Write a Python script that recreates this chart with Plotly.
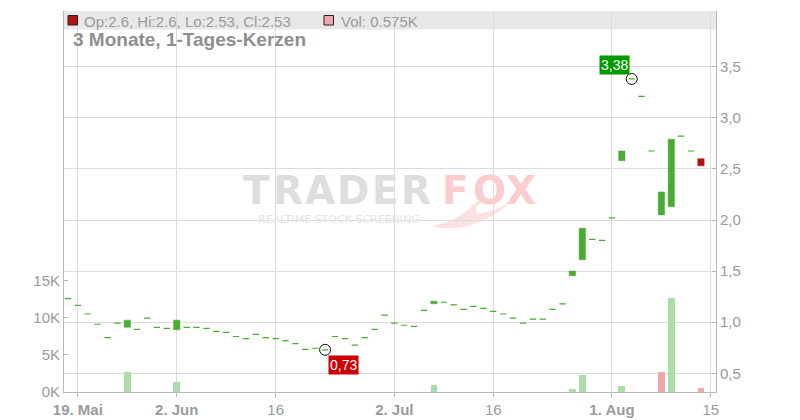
import numpy as np
import pandas as pd
import plotly.graph_objects as go

# ---------------- data ----------------
START = "2025-05-16"
dates = pd.bdate_range(START, "2025-08-14")  # 65 trading days

opens = [1.23, 1.165, 1.08, 0.98, 0.85, 0.99, 0.95, 0.93, 1.04, 0.95,
         0.94, 0.925, 0.95, 0.95, 0.94, 0.91, 0.90, 0.86, 0.84, 0.88,
         0.85, 0.84, 0.82, 0.79, 0.735, 0.745, 0.73, 0.86, 0.84, 0.775,
         0.85, 0.93, 1.07, 0.99, 0.97, 0.96, 1.115, 1.18, 1.195, 1.17,
         1.125, 1.155, 1.135, 1.105, 1.08, 1.04, 0.99, 1.03, 1.03, 1.125,
         1.18, 1.455, 1.61, 1.81, 1.80, 2.02, 2.58, 3.38, 3.21, 2.675,
         2.05, 2.13, 2.82, 2.675, 2.60]
closes = [1.23, 1.165, 1.08, 0.98, 0.85, 0.99, 1.02, 0.93, 1.04, 0.95,
          0.94, 1.02, 0.95, 0.95, 0.94, 0.91, 0.90, 0.86, 0.84, 0.88,
          0.85, 0.84, 0.82, 0.79, 0.735, 0.745, 0.73, 0.86, 0.84, 0.775,
          0.85, 0.93, 1.07, 0.99, 0.97, 0.96, 1.115, 1.205, 1.195, 1.17,
          1.125, 1.155, 1.135, 1.105, 1.08, 1.04, 0.99, 1.03, 1.03, 1.125,
          1.18, 1.50, 1.92, 1.81, 1.80, 2.02, 2.675, 3.38, 3.21, 2.675,
          2.275, 2.79, 2.82, 2.675, 2.53]
highs = [1.23, 1.165, 1.08, 0.98, 0.85, 0.99, 1.02, 0.93, 1.04, 0.95,
         0.94, 1.02, 0.95, 0.95, 0.94, 0.91, 0.90, 0.86, 0.84, 0.88,
         0.85, 0.84, 0.82, 0.79, 0.735, 0.745, 0.73, 0.86, 0.84, 0.775,
         0.85, 0.93, 1.07, 0.99, 0.97, 0.96, 1.115, 1.205, 1.195, 1.17,
         1.125, 1.155, 1.135, 1.105, 1.08, 1.04, 0.99, 1.03, 1.03, 1.125,
         1.18, 1.50, 1.92, 1.81, 1.80, 2.02, 2.675, 3.38, 3.21, 2.675,
         2.275, 2.79, 2.82, 2.675, 2.60]
lows = [1.23, 1.165, 1.08, 0.98, 0.85, 0.99, 0.95, 0.93, 1.04, 0.95,
        0.94, 0.925, 0.95, 0.95, 0.94, 0.91, 0.90, 0.86, 0.84, 0.88,
        0.85, 0.84, 0.82, 0.79, 0.735, 0.745, 0.73, 0.86, 0.84, 0.775,
        0.85, 0.93, 1.07, 0.99, 0.97, 0.96, 1.115, 1.18, 1.195, 1.17,
        1.125, 1.155, 1.135, 1.105, 1.08, 1.04, 0.99, 1.03, 1.03, 1.125,
        1.18, 1.455, 1.61, 1.81, 1.80, 2.02, 2.58, 3.38, 3.21, 2.675,
        2.05, 2.13, 2.82, 2.675, 2.53]
volumes_k = [0, 0, 0, 0, 0, 0, 2.73, 0, 0, 0,
             0, 1.39, 0, 0, 0, 0, 0, 0, 0, 0,
             0, 0, 0, 0, 0, 0, 0, 0, 0, 0,
             0, 0, 0, 0, 0, 0, 0, 0.98, 0, 0,
             0, 0, 0, 0, 0, 0, 0, 0, 0, 0,
             0, 0.44, 2.33, 0, 0, 0, 0.85, 0, 0, 0,
             2.73, 12.67, 0, 0, 0.575]

tick_dates = ["2025-05-19", "2025-06-02", "2025-06-16", "2025-07-02",
              "2025-07-16", "2025-08-01", "2025-08-15"]
tick_text = ["<b>19. Mai</b>", "<b>2. Jun</b>", "16", "<b>2. Jul</b>",
             "16", "<b>1. Aug</b>", "15"]
price_ticks = [0.5, 1.0, 1.5, 2.0, 2.5, 3.0, 3.5]
vol_ticks_k = [0, 5, 10, 15]

title_text = "3 Monate, 1-Tages-Kerzen"

# ---------------- style ----------------
GREEN = "#4aac32"
RED = "#b51212"
VGREEN = "#aadea6"
VPINK = "#f0a6ae"
TXT = "#9a9a9a"
GRID = "#dcdcdc"
AXL = "#b8b8b8"
FONT = "Liberation Sans, Arial, sans-serif"

n = len(opens)
xi = np.arange(n)
tick_pos = [int(np.busday_count(START, d)) for d in tick_dates]

# page body has an 8px default margin -> figure drawn at (8, 8)
OFF = 8
FW, FH = 800 - OFF, 420 - OFF
PL, PR, PT, PB = 64, 716, 11, 392   # plot area in screen pixels
def fx(px):
    return (px - PL) / (PR - PL)
def fy(py):
    return (PB - py) / (PB - PT)

fig = go.Figure()

vol_colors = [VGREEN if (i == 0 or closes[i] >= closes[i - 1]) else VPINK for i in range(n)]
fig.add_trace(go.Bar(x=xi, y=[v * 1000 for v in volumes_k], marker=dict(color=vol_colors, line=dict(width=0)),
                     width=0.68, yaxis="y2", hoverinfo="skip", showlegend=False))

body = [i for i in range(n) if opens[i] != closes[i]]
flat = [i for i in range(n) if opens[i] == closes[i]]

def pick(a, idx):
    return [a[i] for i in idx]

fig.add_trace(go.Candlestick(
    x=pick(xi, flat), open=pick(opens, flat), high=pick(highs, flat),
    low=pick(lows, flat), close=pick(closes, flat),
    increasing=dict(line=dict(color=GREEN, width=1.2), fillcolor=GREEN),
    decreasing=dict(line=dict(color=GREEN, width=1.2), fillcolor=GREEN),
    whiskerwidth=0, hoverinfo="skip", showlegend=False))
fig.add_trace(go.Candlestick(
    x=pick(xi, body), open=pick(opens, body), high=pick(highs, body),
    low=pick(lows, body), close=pick(closes, body),
    increasing=dict(line=dict(color=GREEN, width=0.5), fillcolor=GREEN),
    decreasing=dict(line=dict(color=RED, width=0.5), fillcolor=RED),
    whiskerwidth=0, hoverinfo="skip", showlegend=False))

imax = int(np.argmax(highs))
imin = int(np.argmin(lows))
fig.add_trace(go.Scatter(x=[imax, imin], y=[highs[imax], lows[imin]], mode="markers",
                         marker=dict(symbol="circle-open", size=11, color="#111", line=dict(width=1)),
                         hoverinfo="skip", showlegend=False))

def fmt(v):
    return f"{v:.2f}".replace(".", ",")

annotations = [
    dict(x=imax, y=highs[imax], xref="x", yref="y", text=fmt(highs[imax]), showarrow=False,
         xanchor="right", yanchor="bottom", xshift=-2, yshift=4, bgcolor="#009a00",
         font=dict(color="white", size=14, family=FONT), borderpad=1),
    dict(x=imin, y=lows[imin], xref="x", yref="y", text=fmt(lows[imin]), showarrow=False,
         xanchor="left", yanchor="top", xshift=3, yshift=-5, bgcolor="#cc0000",
         font=dict(color="white", size=14, family=FONT), borderpad=1),
]

i_last = n - 1
legend_txt = (f"Op:{opens[i_last]:g}, Hi:{highs[i_last]:g}, "
              f"Lo:{lows[i_last]:g}, Cl:{closes[i_last]:g}")
vol_txt = f"Vol: {volumes_k[i_last]:g}K"
annotations += [
    dict(x=fx(82), y=fy(21), xref="paper", yref="paper", text=legend_txt, showarrow=False,
         xanchor="left", yanchor="middle", font=dict(color=TXT, size=15, family=FONT)),
    dict(x=fx(339), y=fy(21), xref="paper", yref="paper", text=vol_txt, showarrow=False,
         xanchor="left", yanchor="middle", font=dict(color=TXT, size=15, family=FONT)),
    dict(x=fx(71), y=fy(39), xref="paper", yref="paper", text=f"<b>{title_text}</b>", showarrow=False,
         xanchor="left", yanchor="middle", font=dict(color="#8e8e8e", size=19, family=FONT)),
]

# watermark
wm_letters = list("TRADERFOX")
wm_centers = [256, 288, 320, 353, 385, 416, 455, 489, 521]
for k, (ch, cx) in enumerate(zip(wm_letters, wm_centers)):
    annotations.append(dict(x=fx(cx), y=fy(190), xref="paper", yref="paper", text=f"<b>{ch}</b>",
                            showarrow=False, xanchor="center", yanchor="middle",
                            font=dict(color="#dedede" if k < 6 else "#fbcdcd", size=39,
                                      family="DejaVu Sans, sans-serif")))
annotations.append(dict(x=fx(339), y=fy(219), xref="paper", yref="paper",
                        text="REALTIME STOCK SCREENING", showarrow=False,
                        xanchor="center", yanchor="middle",
                        font=dict(color="#e4e4e4", size=11, family="DejaVu Sans, sans-serif")))

def P(px, py):
    return f"{fx(px):.4f},{fy(py):.4f}"

tail = (f"M {P(432,226)} Q {P(455,222)} {P(470,208)} Q {P(478,198)} {P(492,196)} "
        f"Q {P(470,206)} {P(478,214)} Q {P(500,210)} {P(512,200)} "
        f"Q {P(490,224)} {P(455,228)} Q {P(440,229)} {P(432,226)} Z")

shapes = [
    dict(type="rect", xref="paper", yref="paper", x0=0, x1=1, y0=fy(29.5), y1=1,
         fillcolor="#e8e8e8", line=dict(width=0), layer="below"),
    dict(type="rect", xref="paper", yref="paper", x0=fx(68), x1=fx(77.5), y0=fy(25), y1=fy(15.5),
         fillcolor=RED, line=dict(color="#222", width=1)),
    dict(type="rect", xref="paper", yref="paper", x0=fx(324), x1=fx(333.5), y0=fy(25), y1=fy(15.5),
         fillcolor=VPINK, line=dict(color="#222", width=1)),
    dict(type="path", xref="paper", yref="paper", path=tail,
         fillcolor="rgba(246,170,170,0.35)", line=dict(width=0), layer="below"),
]

fig.update_layout(
    width=FW, height=FH,
    margin=dict(l=PL - OFF, r=FW - (PR - OFF), t=PT - OFF, b=FH - (PB - OFF), autoexpand=False),
    paper_bgcolor="white", plot_bgcolor="white",
    separators=",.",
    font=dict(family=FONT, color=TXT, size=15),
    boxgap=0.36,
    boxgroupgap=0,
    bargap=0,
    showlegend=False,
    xaxis=dict(range=[-0.40, 65.52], tickmode="array", tickvals=tick_pos, ticktext=tick_text,
               showgrid=True, gridcolor=GRID, gridwidth=1, showline=True, linecolor=AXL,
               ticks="outside", ticklen=4, tickcolor=AXL, zeroline=False,
               rangeslider=dict(visible=False), tickfont=dict(size=15, color=TXT)),
    yaxis=dict(side="right", range=[0.317, 4.045], tickmode="array", tickvals=price_ticks,
               tickformat=".1f", showgrid=True, gridcolor=GRID, gridwidth=1, showline=True,
               linecolor=AXL, ticks="inside", ticklen=4, tickcolor=AXL, zeroline=False,
               tickfont=dict(size=15, color=TXT)),
    yaxis2=dict(side="left", overlaying="y", range=[0, 51200], tickmode="array",
                tickvals=[v * 1000 for v in vol_ticks_k], ticktext=[f"{v}K" for v in vol_ticks_k],
                showgrid=False, showline=True, linecolor=AXL, ticks="inside", ticklen=4,
                tickcolor=AXL, zeroline=False, tickfont=dict(size=15, color=TXT)),
    annotations=annotations,
    shapes=shapes,
)

fig.write_html("out.html")
